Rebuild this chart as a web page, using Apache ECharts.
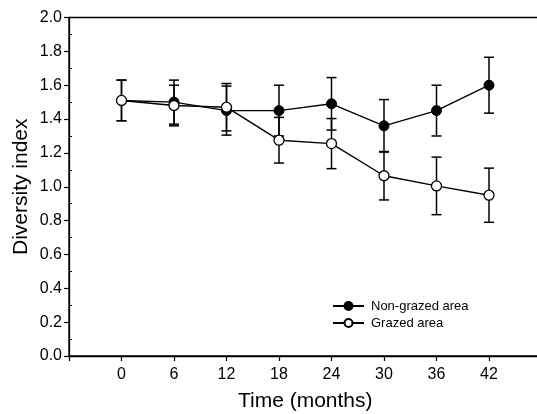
<!DOCTYPE html>
<html>
<head>
<meta charset="utf-8">
<script src="https://cdn.jsdelivr.net/npm/echarts@6/dist/echarts.min.js"></script>
<style>
  html, body { margin: 0; padding: 0; background: #fff; }
  #chart { width: 537px; height: 414px; }
</style>
</head>
<body>
<div id="chart"></div>
<script>
// Sampling times (months)
var months = [0, 6, 12, 18, 24, 30, 36, 42];
// Mean diversity index and standard error per sampling time
var nonGrazed    = [1.51, 1.50, 1.45, 1.45, 1.49, 1.36, 1.45, 1.60];
var nonGrazedErr = [0.12, 0.13, 0.145, 0.15, 0.155, 0.155, 0.15, 0.165];
var grazed       = [1.51, 1.48, 1.47, 1.275, 1.255, 1.065, 1.005, 0.95];
var grazedErr    = [0.12, 0.12, 0.14, 0.135, 0.148, 0.143, 0.17, 0.16];
var xTickLabels  = ['0', '6', '12', '18', '24', '30', '36', '42'];

var FONT = 'Liberation Sans, Arial, sans-serif';

function pairs(vals) {
  return months.map(function (m, i) { return [m, vals[i]]; });
}
function errRows(vals, errs) {
  return months.map(function (m, i) { return [m, vals[i] - errs[i], vals[i] + errs[i]]; });
}

// Vertical error bar with caps
function renderErr(params, api) {
  var x = api.value(0);
  var lo = api.coord([x, api.value(1)]);
  var hi = api.coord([x, api.value(2)]);
  var half = 5;
  var style = { stroke: '#000', lineWidth: 1.5 };
  return {
    type: 'group',
    children: [
      { type: 'line', shape: { x1: lo[0], y1: lo[1], x2: hi[0], y2: hi[1] }, style: style },
      { type: 'line', shape: { x1: lo[0] - half, y1: lo[1], x2: lo[0] + half, y2: lo[1] }, style: style },
      { type: 'line', shape: { x1: hi[0] - half, y1: hi[1], x2: hi[0] + half, y2: hi[1] }, style: style }
    ]
  };
}

var chart = echarts.init(document.getElementById('chart'), null, { renderer: 'canvas' });

chart.setOption({
  animation: false,
  backgroundColor: '#fff',
  textStyle: { fontFamily: FONT, color: '#000' },
  grid: {
    left: 69, top: 17.5, bottom: 58, right: -4.5,
    outerBoundsMode: 'none', containLabel: false,
    show: true, borderColor: '#000', borderWidth: 1.3, backgroundColor: 'transparent'
  },
  legend: {
    left: 332, top: 299.5, orient: 'vertical', padding: 0,
    itemWidth: 31, itemHeight: 10, itemGap: 4,
    textStyle: { fontFamily: FONT, fontSize: 13, color: '#000', padding: [0, 0, 0, 2] },
    data: ['Non-grazed area', 'Grazed area']
  },
  xAxis: {
    type: 'value', min: -6, max: 48, interval: 6,
    name: 'Time (months)', nameLocation: 'middle', nameGap: 35,
    nameTextStyle: { fontFamily: FONT, fontSize: 21, color: '#000' },
    axisLine: { show: true, onZero: false, lineStyle: { color: '#000', width: 1.3 } },
    axisTick: { show: true, length: 5, lineStyle: { color: '#000', width: 1.2 } },
    axisLabel: {
      fontFamily: FONT, fontSize: 16, color: '#000', margin: 11,
      formatter: function (v) {
        var s = String(v);
        return xTickLabels.indexOf(s) >= 0 ? s : '';
      }
    },
    splitLine: { show: false }
  },
  yAxis: {
    type: 'value', min: 0, max: 2, interval: 0.2,
    name: 'Diversity index', nameLocation: 'middle', nameGap: 37, nameMoveOverlap: false,
    nameTextStyle: { fontFamily: FONT, fontSize: 21, color: '#000' },
    axisLine: { show: true, onZero: false, lineStyle: { color: '#000', width: 1.3 } },
    axisTick: { show: true, length: 5, lineStyle: { color: '#000', width: 1.2 } },
    minorTick: { show: true, splitNumber: 2, length: -3, lineStyle: { color: '#000', width: 1 } },
    axisLabel: {
      fontFamily: FONT, fontSize: 16, color: '#000', margin: 7,
      formatter: function (v) { return v.toFixed(1); }
    },
    splitLine: { show: false }
  },
  series: [
    {
      type: 'custom', name: 'nonGrazedErr', z: 1,
      renderItem: renderErr, data: errRows(nonGrazed, nonGrazedErr),
      encode: { x: 0, y: [1, 2] }, silent: true
    },
    {
      type: 'custom', name: 'grazedErr', z: 1,
      renderItem: renderErr, data: errRows(grazed, grazedErr),
      encode: { x: 0, y: [1, 2] }, silent: true
    },
    {
      type: 'line', name: 'Non-grazed area', z: 2,
      data: pairs(nonGrazed),
      symbol: 'circle', symbolSize: 10,
      lineStyle: { color: '#000', width: 1.4 },
      itemStyle: { color: '#000', borderColor: '#000', borderWidth: 1 }
    },
    {
      type: 'line', name: 'Grazed area', z: 3,
      data: pairs(grazed),
      symbol: 'circle', symbolSize: 10,
      lineStyle: { color: '#000', width: 1.4 },
      itemStyle: { color: '#fff', borderColor: '#000', borderWidth: 1.3 }
    }
  ]
});
</script>
</body>
</html>
